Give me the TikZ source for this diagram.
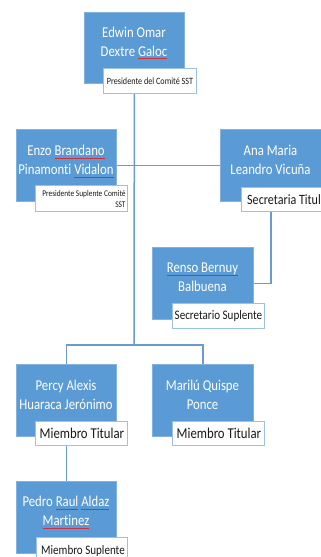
\documentclass[tikz,border=0pt]{standalone}
\usepackage{fontspec}
\newfontfamily\orgfont[FakeStretch=0.85,Ligatures={NoCommon,NoContextual}]{Carlito}
\definecolor{boxblue}{HTML}{5B9BD5}
\definecolor{boxedge}{HTML}{84B2E0}
\definecolor{rolebord}{HTML}{9DC0E6}
\definecolor{connblue}{HTML}{6A9AD0}
\definecolor{squig}{HTML}{D0303A}
\newsavebox\sqbox
\newcommand\sq[1]{\savebox\sqbox{#1}\leavevmode\rlap{\textcolor{squig}{\rule[-2.6pt]{\wd\sqbox}{0.6pt}}}\usebox\sqbox}
\tikzset{
  namebox/.style={rectangle, fill=boxblue, draw=boxedge, line width=0.8pt, inner sep=0pt, anchor=north west, minimum width=100pt, minimum height=72pt},
  nametext/.style={text=white, font=\orgfont\fontsize{15}{19}\selectfont, align=center, inner sep=0pt},
  rolebox/.style={rectangle, fill=white, draw=rolebord, line width=1.3pt, inner sep=0pt, anchor=north west, minimum width=93pt, minimum height=25pt},
  roletext/.style={text=black!90, font=\orgfont\fontsize{15}{18}\selectfont, anchor=west, inner sep=0pt},
  smallrole/.style={text=black!90, font=\orgfont\fontsize{9.6}{11}\selectfont, anchor=west, inner sep=0pt},
  conn/.style={draw=connblue, line width=1.5pt}
}
\begin{document}
\begin{tikzpicture}[x=1pt,y=-1pt]
\useasboundingbox (0,0) rectangle (321,557);
\clip (0,0) rectangle (321,557);
% name boxes
\node[namebox, minimum height=71pt] (edwin) at (84,12) {};
\node[namebox] (enzo) at (16,129) {};
\node[namebox, minimum width=101pt] (ana) at (220,129) {};
\node[namebox, minimum width=101pt] (renso) at (152,247) {};
\node[namebox] (percy) at (16,364) {};
\node[namebox, minimum width=101pt] (marilu) at (152,364) {};
\node[namebox] (pedro) at (16,481) {};
\coordinate (hub) at (134,345);
% connectors
\draw[conn] (edwin.south) -- (hub);
\draw[conn] (enzo.east) -- (ana.west);
\draw[conn] (ana.south) -- (ana.south |- renso.east) -- (renso.east);
\draw[conn] (percy.north) |- (hub) -| (marilu.north);
\draw[conn] (percy.south) -- (pedro.north);
% name texts
\node[nametext] (edwint) at (134,43) {Edwin Omar\\Dextre \sq{Galoc}};
\node[nametext] (enzot) at (66,161.5) {Enzo \sq{Brandano}\\Pinamonti \sq{Vidalon}};
\node[nametext] (anat) at (270.5,160) {Ana Maria\\Leandro Vicuña};
\node[nametext] (rensot) at (202.5,277.5) {\sq{Renso Bernuy}\\Balbuena};
\node[nametext] (percyt) at (66,395) {Percy Alexis\\Huaraca Jerónimo};
\node[nametext] (marilut) at (202.5,395) {Marilú Quispe\\Ponce};
\node[nametext] (pedrot) at (66,512.5) {Pedro \sq{Raul} \sq{Aldaz}\\\sq{Martinez}};
% role boxes
\node[rolebox] (edwinrole) at (103,68) {};
\node[rolebox, minimum width=92pt, minimum height=26pt] (enzorole) at (35,185) {};
\node[rolebox, minimum height=24pt] (anarole) at (241,187) {};
\node[rolebox, minimum width=92pt] (rensorole) at (172,303) {};
\node[rolebox, minimum width=92pt, minimum height=24pt] (percyrole) at (35,421) {};
\node[rolebox, minimum width=92pt, minimum height=24pt] (marilurole) at (172,421) {};
\node[rolebox, minimum width=91pt] (pedrorole) at (36,537) {};
% role texts
\node[smallrole] (edwinroletxt) at ([xshift=3.7pt]edwinrole.west) {Presidente del Comité SST};
\node[text=black!90, font=\orgfont\fontsize{8.7}{11}\selectfont, align=right, inner sep=0pt, anchor=east] (enzoroletxt) at ([xshift=-2.5pt]enzorole.east) {Presidente Suplente Comité\\SST};
\node[roletext, font=\orgfont\fontsize{14.2}{17}\selectfont] (anaroletxt) at ([xshift=6pt]anarole.west) {Secretaria Titular};
\node[roletext, font=\orgfont\fontsize{13}{16}\selectfont] (rensoroletxt) at ([xshift=2.5pt]rensorole.west) {Secretario Suplente};
\node[roletext] (percyroletxt) at ([xshift=4.5pt]percyrole.west) {Miembro Titular};
\node[roletext] (mariluroletxt) at ([xshift=4.5pt]marilurole.west) {Miembro Titular};
\node[roletext, font=\orgfont\fontsize{13}{16}\selectfont] (pedroroletxt) at ([xshift=5pt,yshift=-0.5pt]pedrorole.west) {Miembro Suplente};
\end{tikzpicture}
\end{document}
